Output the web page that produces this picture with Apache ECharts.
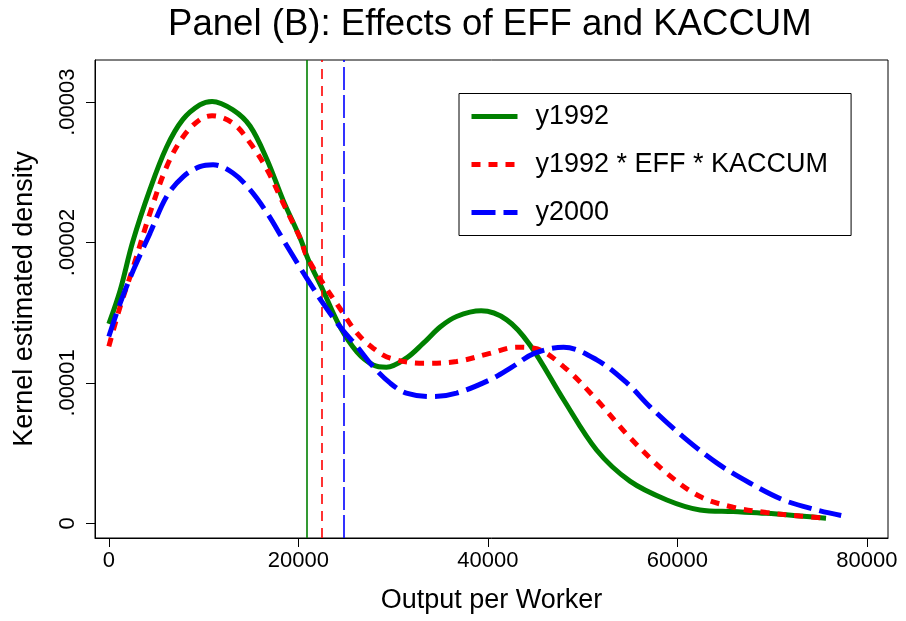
<!DOCTYPE html>
<html><head><meta charset="utf-8">
<script src="https://cdn.jsdelivr.net/npm/echarts@6/dist/echarts.min.js"></script>
<style>html,body{margin:0;padding:0;background:#fff}#c{width:906px;height:621px}</style>
</head><body><div id="c"></div>
<script>
const chartTitle = 'Panel (B): Effects of EFF and KACCUM';
const xAxisTitle = 'Output per Worker';
const yAxisTitle = 'Kernel estimated density';
const seriesNames = ['y1992', 'y1992 * EFF * KACCUM', 'y2000'];

const xTickValues = [0, 20000, 40000, 60000, 80000];
const xTickLabels = ['0', '20000', '40000', '60000', '80000'];
const yTickValues = [0, 1e-5, 2e-5, 3e-5];
const yTickLabels = ['0', '.00001', '.00002', '.00003'];

// vertical reference lines (means): y1992, y1992*EFF*KACCUM, y2000
const meanLines = [20900, 22500, 24800];

const y1992X = [0, 1200, 2500, 4350, 6100, 7800, 9600, 10900, 13100, 14900, 16700, 18400, 20200, 21100, 22600, 24400, 26200, 27900, 29300, 31400, 33200, 35000, 36700, 39300, 42000, 44450, 48000, 51500, 55000, 58900, 62400, 65900, 69400, 72950, 75700];
const y1992Y = [1.42e-5, 1.66e-5, 2.00e-5, 2.38e-5, 2.68e-5, 2.875e-5, 2.98e-5, 3.005e-5, 2.945e-5, 2.83e-5, 2.59e-5, 2.30e-5, 2.03e-5, 1.87e-5, 1.66e-5, 1.40e-5, 1.22e-5, 1.128e-5, 1.112e-5, 1.176e-5, 1.283e-5, 1.40e-5, 1.473e-5, 1.513e-5, 1.449e-5, 1.27e-5, 0.88e-5, 0.52e-5, 0.30e-5, 0.166e-5, 0.095e-5, 0.083e-5, 0.071e-5, 0.052e-5, 0.036e-5];

const effX = [0, 1200, 2600, 4350, 6100, 7860, 9600, 10900, 13100, 14900, 16700, 18400, 20200, 20900, 22600, 24400, 26200, 27900, 29700, 33200, 36700, 40200, 43000, 44900, 48000, 51500, 55000, 58900, 62400, 65900, 69400, 72950, 75400];
const effY = [1.26e-5, 1.544e-5, 1.83e-5, 2.21e-5, 2.54e-5, 2.755e-5, 2.875e-5, 2.903e-5, 2.85e-5, 2.71e-5, 2.52e-5, 2.28e-5, 2.03e-5, 1.90e-5, 1.71e-5, 1.53e-5, 1.354e-5, 1.247e-5, 1.176e-5, 1.14e-5, 1.152e-5, 1.21e-5, 1.254e-5, 1.247e-5, 1.116e-5, 0.879e-5, 0.61e-5, 0.356e-5, 0.19e-5, 0.114e-5, 0.076e-5, 0.052e-5, 0.038e-5];

const y2000X = [0, 1200, 2600, 4350, 6100, 7860, 9600, 11000, 13100, 14900, 16700, 18400, 20200, 20900, 22600, 24400, 26200, 27900, 29700, 31400, 34200, 36700, 40200, 42500, 44900, 48000, 51500, 54700, 57100, 60600, 64200, 67700, 71200, 74700, 77300];
const y2000Y = [1.33e-5, 1.568e-5, 1.805e-5, 2.067e-5, 2.328e-5, 2.47e-5, 2.54e-5, 2.554e-5, 2.495e-5, 2.376e-5, 2.21e-5, 2.02e-5, 1.82e-5, 1.745e-5, 1.568e-5, 1.40e-5, 1.259e-5, 1.116e-5, 0.998e-5, 0.927e-5, 0.902e-5, 0.927e-5, 1.021e-5, 1.11e-5, 1.21e-5, 1.254e-5, 1.164e-5, 0.998e-5, 0.831e-5, 0.617e-5, 0.428e-5, 0.285e-5, 0.166e-5, 0.095e-5, 0.055e-5];

const FONT = 'Liberation Sans, Arial, Helvetica, sans-serif';
const colors = ['#008000', '#ff0000', '#0000ff'];
const dashes = ['solid', [9, 8], [24, 8]];
const vDashes = ['solid', [10, 7], [23, 5]];

function pairs(xs, ys) { return xs.map((x, i) => [x, ys[i]]); }
function labelFor(values, labels) {
  return v => { let best = 0; values.forEach((t, i) => { if (Math.abs(t - v) < Math.abs(values[best] - v)) best = i; }); return labels[best]; };
}

const chart = echarts.init(document.getElementById('c'), null, { renderer: 'canvas' });
const curveData = [pairs(y1992X, y1992Y), pairs(effX, effY), pairs(y2000X, y2000Y)];

const series = curveData.map((d, i) => ({
  name: seriesNames[i], type: 'line', data: d, smooth: 0.35, symbol: 'none',
  lineStyle: { color: colors[i], width: 5, type: dashes[i], cap: 'butt' },
  itemStyle: { color: colors[i] },
  z: 3 + i, emphasis: { disabled: true }
}));
series.push({
  name: 'means', type: 'line', data: [], z: 1, silent: true,
  markLine: {
    silent: true, symbol: ['none', 'none'], label: { show: false }, animation: false,
    emphasis: { disabled: true },
    data: meanLines.map((x, i) => ({ xAxis: x, lineStyle: { color: colors[i], width: 1.6, type: vDashes[i] } }))
  }
});

chart.setOption({
  animation: false,
  backgroundColor: '#fff',
  title: {
    text: chartTitle, left: 168, top: 6, padding: 0,
    textStyle: { fontFamily: FONT, fontSize: 36.6, fontWeight: 'normal', color: '#000' }
  },
  legend: {
    orient: 'vertical', left: 459, top: 93.5,
    itemWidth: 46, itemHeight: 14, itemGap: 18, 
    padding: [8, 23, 8, 10], borderColor: '#000', borderWidth: 1, backgroundColor: '#fff',
    textStyle: { fontFamily: FONT, fontSize: 27, color: '#000', lineHeight: 30, padding: [0, 0, 0, 13] },
    selectedMode: false,
    data: seriesNames.map((n, i) => ({ name: n, itemStyle: { opacity: 0 }, lineStyle: { width: 5, type: dashes[i], color: colors[i] } }))
  },
  grid: { left: 95, top: 60, right: 18, bottom: 83, show: true, borderColor: '#000', borderWidth: 1, backgroundColor: '#fff', containLabel: false },
  xAxis: {
    type: 'value', min: -1460, max: 82240,
    name: xAxisTitle, nameLocation: 'middle', nameGap: 49,
    nameTextStyle: { fontFamily: FONT, fontSize: 27, color: '#000' },
    axisLine: { show: true, onZero: false, lineStyle: { color: '#000', width: 1 } },
    axisTick: { show: true, length: 9, customValues: xTickValues, lineStyle: { color: '#000', width: 1 } },
    axisLabel: { customValues: xTickValues, formatter: labelFor(xTickValues, xTickLabels), fontFamily: FONT, fontSize: 22, color: '#000', margin: 12 },
    splitLine: { show: false }
  },
  yAxis: {
    type: 'value', min: -1.05e-6, max: 3.30e-5,
    name: yAxisTitle, nameLocation: 'middle', nameGap: 57,
    nameTextStyle: { fontFamily: FONT, fontSize: 27, color: '#000' },
    axisLine: { show: true, onZero: false, lineStyle: { color: '#000', width: 1 } },
    axisTick: { show: true, length: 9, customValues: yTickValues, lineStyle: { color: '#000', width: 1 } },
    axisLabel: { customValues: yTickValues, rotate: 90, formatter: labelFor(yTickValues, yTickLabels), fontFamily: FONT, fontSize: 22, color: '#000', margin: 16 },
    splitLine: { show: false }
  },
  series: series
});
</script></body></html>
